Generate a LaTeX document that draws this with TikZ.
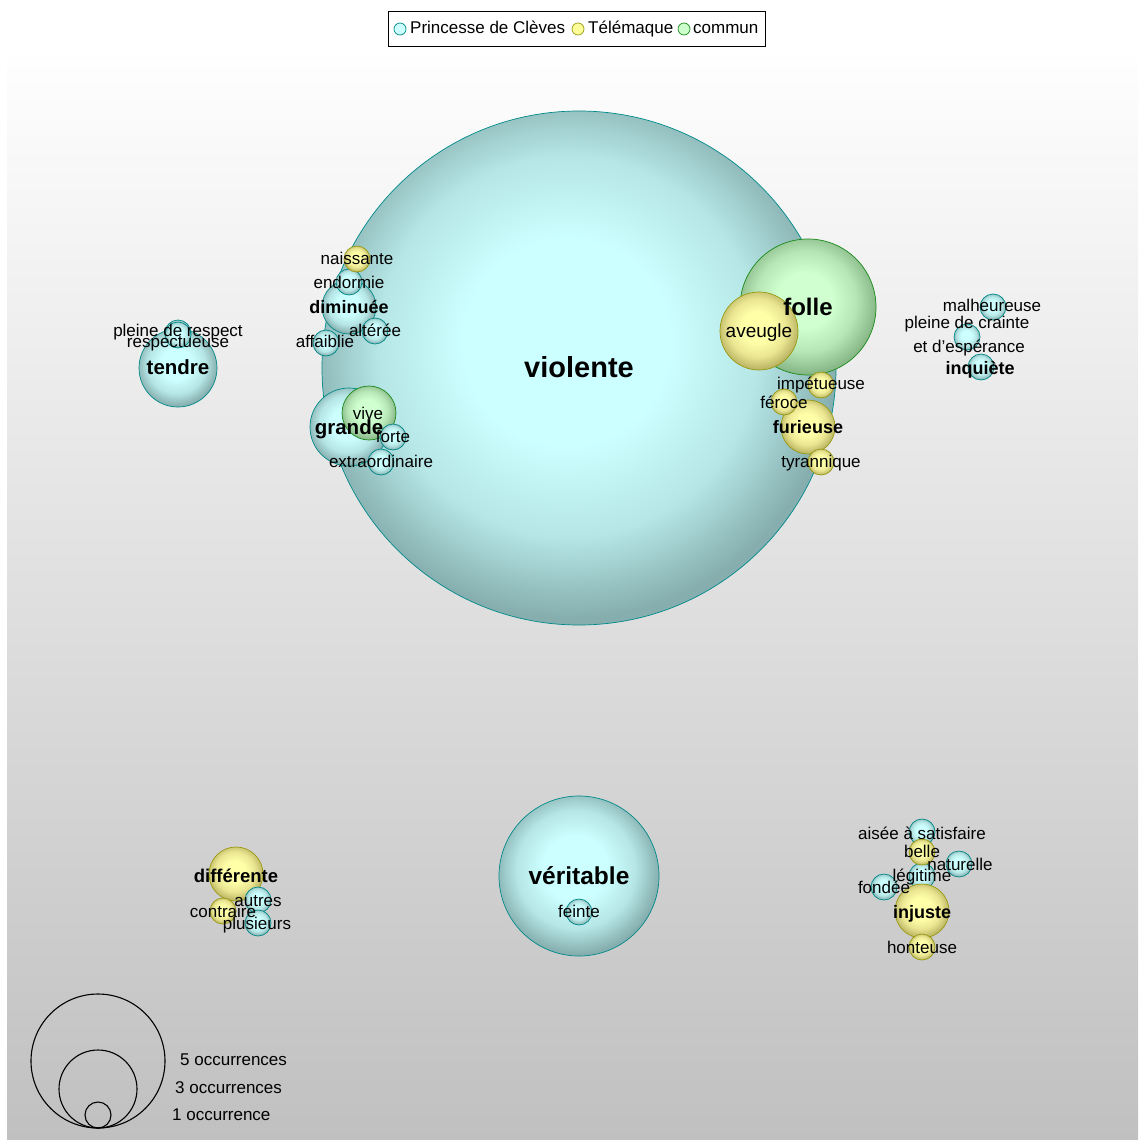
\documentclass[tikz,border=0pt]{standalone}
\usepackage{fontspec}
\setmainfont{Liberation Sans}
\definecolor{cin}{HTML}{CCFFFF}
\definecolor{cmid}{HTML}{B6E6E6}
\definecolor{cout}{HTML}{86AEAE}
\definecolor{cbord}{HTML}{008A8A}
\definecolor{yin}{HTML}{FFFFA8}
\definecolor{ymid}{HTML}{EAE692}
\definecolor{yout}{HTML}{BCB664}
\definecolor{ybord}{HTML}{9A9A10}
\definecolor{gin}{HTML}{D0FFD0}
\definecolor{gmid}{HTML}{B6E6B6}
\definecolor{gout}{HTML}{88B888}
\definecolor{gbord}{HTML}{1A8A1A}
\definecolor{bgtop}{HTML}{FEFEFE}
\definecolor{bgbot}{HTML}{C0C0C0}
\definecolor{legc}{HTML}{CCFFFF}
\definecolor{legy}{HTML}{FFFF99}
\definecolor{legg}{HTML}{CCFFCC}
\pgfdeclareradialshading{cyanball}{\pgfpoint{-1.5bp}{3bp}}{color(0bp)=(cin); color(10bp)=(cin); color(18.5bp)=(cmid); color(26bp)=(cout); color(60bp)=(cout)}
\pgfdeclareradialshading{yelball}{\pgfpoint{-1.5bp}{3bp}}{color(0bp)=(yin); color(10bp)=(yin); color(18.5bp)=(ymid); color(26bp)=(yout); color(60bp)=(yout)}
\pgfdeclareradialshading{grnball}{\pgfpoint{-1.5bp}{3bp}}{color(0bp)=(gin); color(10bp)=(gin); color(18.5bp)=(gmid); color(26bp)=(gout); color(60bp)=(gout)}
\pgfdeclareverticalshading{bgshade}{100bp}{color(0bp)=(bgbot); color(25bp)=(bgbot); color(75bp)=(bgtop); color(100bp)=(bgtop)}
\tikzset{
  ballbase/.style={circle, inner sep=0pt, outer sep=0pt, line width=0.7pt, minimum size=#1*2pt},
  cb/.style={ballbase=#1, shade, shading=cyanball, draw=cbord},
  yb/.style={ballbase=#1, shade, shading=yelball, draw=ybord},
  gb/.style={ballbase=#1, shade, shading=grnball, draw=gbord},
  lab/.style={anchor=mid, inner sep=0pt, yshift=-4pt, font=\fontsize{17}{20}\selectfont},
  blab/.style={anchor=mid, inner sep=0pt, yshift=-0.25*#1pt, font=\fontsize{#1}{#1}\selectfont\bfseries},
  szcirc/.style={circle, draw=black, line width=1.1pt, inner sep=0pt, minimum size=#1*2pt},
  legdot/.style={circle, inner sep=0pt, minimum size=12pt, line width=0.7pt},
}
\begin{document}
\begin{tikzpicture}[x=1pt,y=-1pt]
\useasboundingbox (0,0) rectangle (1138,1140);
\fill[white] (0,0) rectangle (1138,1140);
\path[shade, shading=bgshade] (7,58) rectangle (1138,1140);

% main cluster
\node[cb=257] (cviolente) at (579,368) {};
\node[gb=68] (cfolle) at (808,307) {};
\node[yb=39] (caveugle) at (759,331) {};
\node[yb=13] (cimpetueuse) at (821,385) {};
\node[yb=27] (cfurieuse) at (808,427) {};
\node[yb=13] (cferoce) at (784,402) {};
\node[yb=13] (ctyrannique) at (821,462) {};
\node[cb=27] (cdiminuee) at (349,307) {};
\node[cb=13] (cendormie) at (349,282) {};
\node[yb=13] (cnaissante) at (357,259) {};
\node[cb=13] (calteree) at (375,331) {};
\node[cb=13] (caffaiblie) at (326,343) {};
\node[cb=39] (cgrande) at (349,427) {};
\node[gb=27] (cvive) at (369,413) {};
\node[cb=13] (cforte) at (393,437) {};
\node[cb=13] (cextra) at (381,462) {};
% tendre
\node[cb=39] (ctendre) at (178,368) {};
\node[cb=13] (cpleinerespect) at (178,333) {};
\node[cb=13] (crespectueuse) at (178,335) {};
% inquiete
\node[cb=13] (cmalheureuse) at (993,307) {};
\node[cb=13] (cpleinecrainte) at (967,337) {};
\node[cb=13] (cinquiete) at (981,367) {};
% veritable
\node[cb=80] (cveritable) at (579,876) {};
\node[cb=13] (cfeinte) at (579,912) {};
% differente
\node[yb=27] (cdifferente) at (236,874) {};
\node[cb=13] (cautres) at (258,900) {};
\node[yb=13] (ccontraire) at (223,911) {};
\node[cb=13] (cplusieurs) at (258,923) {};
% injuste
\node[cb=13] (caisee) at (922,832) {};
\node[cb=13] (cnaturelle) at (959,864) {};
\node[cb=13] (clegitime) at (922,876) {};
\node[cb=13] (cfondee) at (884,887) {};
\node[yb=13] (cbelle) at (922,852) {};
\node[yb=27] (cinjuste) at (922,911) {};
\node[yb=13] (chonteuse) at (922,947) {};

% labels
\node[blab=29] (lviolente) at (579,368) {violente};
\node[blab=24] (lfolle) at (808,307) {folle};
\node[lab, font=\fontsize{19}{22}\selectfont] (laveugle) at (759,331) {aveugle};
\node[lab] (limpetueuse) at (821,383) {impétueuse};
\node[lab] (lferoce) at (784,402) {féroce};
\node[blab=18] (lfurieuse) at (808,426) {furieuse};
\node[lab] (ltyrannique) at (821,461) {tyrannique};
\node[lab] (lnaissante) at (357,258) {naissante};
\node[lab] (lendormie) at (349,282) {endormie};
\node[blab=18] (ldiminuee) at (349,306) {diminuée};
\node[lab] (lalteree) at (375,330) {altérée};
\node[lab] (laffaiblie) at (325,341) {affaiblie};
\node[blab=20.5] (lgrande) at (349,427) {grande};
\node[lab] (lvive) at (368,413) {vive};
\node[lab] (lforte) at (393,436) {forte};
\node[lab] (lextra) at (381,461) {extraordinaire};
\node[blab=20.5] (ltendre) at (178,367) {tendre};
\node[lab] (lpleinerespect) at (178,330) {pleine de respect};
\node[lab] (lrespectueuse) at (178,341) {respectueuse};
\node[lab] (lmalheureuse) at (992,305) {malheureuse};
\node[lab] (lpleinecrainte) at (967,322) {pleine de crainte};
\node[lab] (lesperance) at (969,346) {et d'espérance};
\node[blab=18] (linquiete) at (980,367) {inquiète};
\node[blab=24.5] (lveritable) at (579,876) {véritable};
\node[lab] (lfeinte) at (579,911) {feinte};
\node[blab=18.5] (ldifferente) at (236,875) {différente};
\node[lab] (lautres) at (258,900) {autres};
\node[lab] (lcontraire) at (223,911) {contraire};
\node[lab] (lplusieurs) at (257,923) {plusieurs};
\node[lab] (laisee) at (922,833) {aisée à satisfaire};
\node[lab] (lbelle) at (922,851) {belle};
\node[lab] (lnaturelle) at (960,864) {naturelle};
\node[lab] (llegitime) at (922,875) {légitime};
\node[lab] (lfondee) at (884,887) {fondée};
\node[blab=18] (linjuste) at (922,911) {injuste};
\node[lab] (lhonteuse) at (922,947) {honteuse};

% size legend
\node[szcirc=67] (s5) at (98,1061) {};
\node[szcirc=39] (s3) at (98,1089) {};
\node[szcirc=13] (s1) at (98,1115) {};
\node[lab, anchor=mid west] (t5) at (180,1059) {5 occurrences};
\node[lab, anchor=mid west] (t3) at (175,1087) {3 occurrences};
\node[lab, anchor=mid west] (t1) at (172,1114) {1 occurrence};

% colour legend
\node[draw=black, fill=white, line width=0.8pt, minimum width=377pt, minimum height=35pt, inner sep=0pt] (legend) at (576.5,28.5) {};
\node[legdot, fill=legc, draw=cbord] (dc) at (400,29) {};
\node[lab, anchor=mid west, yshift=1pt] (tc) at (410,28) {Princesse de Clèves};
\node[legdot, fill=legy, draw=ybord] (dy) at (578,29) {};
\node[lab, anchor=mid west, yshift=1pt] (ty) at (588,28) {Télémaque};
\node[legdot, fill=legg, draw=gbord] (dg) at (684,29) {};
\node[lab, anchor=mid west, yshift=1pt] (tg) at (693,28) {commun};
\end{tikzpicture}
\end{document}
